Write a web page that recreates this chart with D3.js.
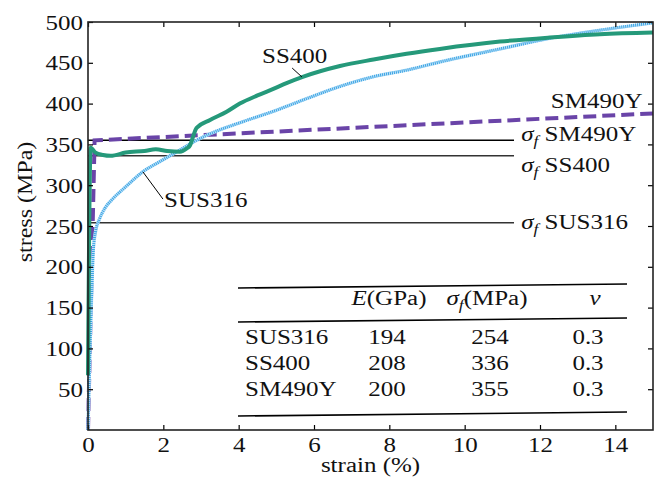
<!DOCTYPE html>
<html><head><meta charset="utf-8">
<script src="https://cdn.jsdelivr.net/npm/d3@7"></script>
<style>
html,body{margin:0;padding:0;background:#fff;}
svg{display:block;}
svg text{font-family:'Liberation Serif','Times New Roman',Times,serif !important;fill:#111;}
</style></head>
<body>
<svg id="chart" width="660" height="487" font-family="Liberation Serif, Times New Roman, serif"></svg>
<script>
// ---------- data ----------
const strainSS400 = [0, 0.07, 0.1, 0.2, 0.4, 0.6, 1.0, 1.5, 1.8, 2.1, 2.44, 2.62, 2.71, 2.8, 2.88, 3.24, 3.68, 4.03, 4.5, 4.92, 5.27, 5.72, 6.69, 7.58, 8.46, 9.34, 10.94, 12.26, 13.59, 15];
const stressSS400 = [67, 346, 345, 340, 337, 336, 340, 342, 344, 342, 341, 345, 349, 361, 370, 380, 390, 400, 410, 418, 425, 433, 446, 454, 461, 467, 476, 481, 485, 487];

const strainSUS316 = [0, 0.05, 0.1, 0.14, 0.2, 0.3, 0.45, 0.63, 1.0, 1.47, 1.91, 2.4, 2.8, 3.24, 4.12, 5.01, 5.8, 6.69, 7.58, 8.46, 9.34, 10.94, 12.26, 13.59, 15];
const stressSUS316 = [0, 95, 170, 220, 243, 258, 272, 282, 298, 317, 329, 342, 353, 363, 378, 392, 406, 421, 433, 441, 451, 467, 480, 490, 499];

const strainSM490Y = [0, 0.175, 15];
const stressSM490Y = [0, 355, 388];

const yieldNames = ["SM490Y", "SS400", "SUS316"];
const yieldValues = [355, 336, 254];

const xTicks = [0, 2, 4, 6, 8, 10, 12, 14];
const yTicks = [50, 100, 150, 200, 250, 300, 350, 400, 450, 500];

const tableMaterials = ["SUS316", "SS400", "SM490Y"];
const tableE = ["194", "208", "200"];
const tableSigma = ["254", "336", "355"];
const tableNu = ["0.3", "0.3", "0.3"];

// ---------- setup ----------
const FONT = "Liberation Serif";
const SX = 1.25;   // horizontal stretch of the glyphs
const FS = 20;
const svg = d3.select("#chart");
const x = d3.scaleLinear().domain([0, 15]).range([88, 653]);
const y = d3.scaleLinear().domain([0, 500]).range([430, 22]);

function stext(parent, px, py, anchor, size) {
  const g = parent.append("g").attr("transform", `translate(${px},${py}) scale(${SX},1)`);
  return g.append("text").attr("font-family", FONT).attr("text-anchor", anchor || "start").attr("font-size", size || FS);
}
function sigmaLabel(t, rest) {
  t.append("tspan").attr("font-style", "italic").text("σ");
  t.append("tspan").attr("font-style", "italic").attr("font-size", 14).attr("dy", 5).text("f");
  t.append("tspan").attr("dy", -5).text(rest);
}

// ---------- yield stress lines ----------
const hl = svg.append("g");
yieldValues.forEach((v, i) => {
  hl.append("line").attr("x1", x(0)).attr("x2", x(11.31))
    .attr("y1", y(v)).attr("y2", y(v))
    .attr("stroke", i === 0 ? "#000" : "#333").attr("stroke-width", 1.4);
});
const yOff = [1, 16, 6];
yieldValues.forEach((v, i) => {
  const t = stext(svg, x(11.5), y(v) + yOff[i], "start", FS);
  sigmaLabel(t, " " + yieldNames[i]);
});

// ---------- curves ----------
const line = d3.line().x(d => x(d[0])).y(d => y(d[1])).curve(d3.curveMonotoneX);
const zip = (a, b) => a.map((v, i) => [v, b[i]]);

svg.append("path").datum(zip(strainSM490Y, stressSM490Y))
  .attr("d", d3.line().x(d => x(d[0])).y(d => y(d[1])))
  .attr("fill", "none").attr("stroke", "#6a44a8").attr("stroke-width", 4)
  .attr("stroke-dasharray", "13,6");

svg.append("path").datum(zip(strainSUS316, stressSUS316))
  .attr("d", line).attr("fill", "none").attr("stroke", "#bfe3f8").attr("stroke-width", 3.4);
svg.append("path").datum(zip(strainSUS316, stressSUS316))
  .attr("d", line).attr("fill", "none").attr("stroke", "#3aa3e4").attr("stroke-width", 3)
  .attr("stroke-dasharray", "1,1");

svg.append("path").datum(zip(strainSS400, stressSS400))
  .attr("d", line).attr("fill", "none").attr("stroke", "#25997a").attr("stroke-width", 4)
  .attr("stroke-linejoin", "round");

// ---------- curve labels ----------
stext(svg, x(4.62), y(450), "start", FS).text("SS400");
svg.append("line").attr("x1", x(5.42)).attr("y1", y(443.6)).attr("x2", x(5.68)).attr("y2", y(432.6))
  .attr("stroke", "#000").attr("stroke-width", 1);
stext(svg, x(2.02), y(273.3), "start", FS).text("SUS316");
svg.append("line").attr("x1", x(1.46)).attr("y1", y(316.2)).attr("x2", x(1.99)).attr("y2", y(283))
  .attr("stroke", "#000").attr("stroke-width", 1);
stext(svg, x(14.72), y(395), "end", FS).text("SM490Y");

// ---------- axes ----------
const ax = svg.append("g");
const bottom = ax.append("g").attr("transform", `translate(0,${y(0)})`)
  .call(d3.axisBottom(x).tickValues(xTicks).tickSizeInner(-5).tickSizeOuter(0).tickFormat(d3.format("d")));
bottom.selectAll("text").attr("y", 22).attr("dy", 0).attr("font-size", FS).attr("font-family", FONT)
  .attr("transform", `scale(${SX},1)`).attr("fill", "#111");
const left = ax.append("g").attr("transform", `translate(${x(0)},0)`)
  .call(d3.axisLeft(y).tickValues(yTicks).tickSizeInner(-5).tickSizeOuter(0).tickFormat(d3.format("d")));
left.selectAll("text").attr("x", -5 / SX).attr("dy", 7).attr("font-size", FS).attr("font-family", FONT)
  .attr("transform", `scale(${SX},1)`).attr("fill", "#111");
ax.append("g").attr("transform", `translate(0,${y(500)})`)
  .call(d3.axisTop(x).tickValues(xTicks).tickSizeInner(-5).tickSizeOuter(0).tickFormat(""));
ax.append("g").attr("transform", `translate(${x(15)},0)`)
  .call(d3.axisRight(y).tickValues(yTicks).tickSizeInner(-5).tickSizeOuter(0).tickFormat(""));
ax.selectAll("g").attr("font-family", FONT);
ax.selectAll(".domain").remove();
ax.selectAll(".tick line").attr("stroke", "#000").attr("stroke-width", 1.2);
ax.append("rect").attr("x", x(0)).attr("y", y(500)).attr("width", x(15) - x(0)).attr("height", y(0) - y(500))
  .attr("fill", "none").attr("stroke", "#222").attr("stroke-width", 1.6);

// axis titles
stext(svg, (x(0) + x(15)) / 2, 472, "middle", FS).text("strain (%)");
svg.append("g").attr("transform", `translate(32,${(y(0)+y(500))/2 - 24}) rotate(-90) scale(1.2,1)`)
  .append("text").attr("font-family", FONT).attr("text-anchor", "middle").attr("font-size", FS).text("stress (MPa)");

// ---------- table ----------
const tb = svg.append("g");
const ruleL = 238, ruleR = 627;
[[288, 284], [322, 318], [416, 412]].forEach(r => {
  tb.append("line").attr("x1", ruleL).attr("x2", ruleR).attr("y1", r[0]).attr("y2", r[1])
    .attr("stroke", "#000").attr("stroke-width", 1.6);
});
const hE = stext(tb, 389, 305, "middle", FS);
hE.append("tspan").attr("font-style", "italic").text("E");
hE.append("tspan").text("(GPa)");
sigmaLabel(stext(tb, 487, 305, "middle", FS), "(MPa)");
stext(tb, 595, 305, "middle", FS).attr("font-style", "italic").text("ν");
const rowY = [344, 370, 396];
tableMaterials.forEach((m, i) => {
  stext(tb, 245, rowY[i], "start", FS).text(m);
  stext(tb, 387, rowY[i], "middle", FS).text(tableE[i]);
  stext(tb, 490, rowY[i], "middle", FS).text(tableSigma[i]);
  stext(tb, 588, rowY[i], "middle", FS).text(tableNu[i]);
});
</script>
</body></html>
